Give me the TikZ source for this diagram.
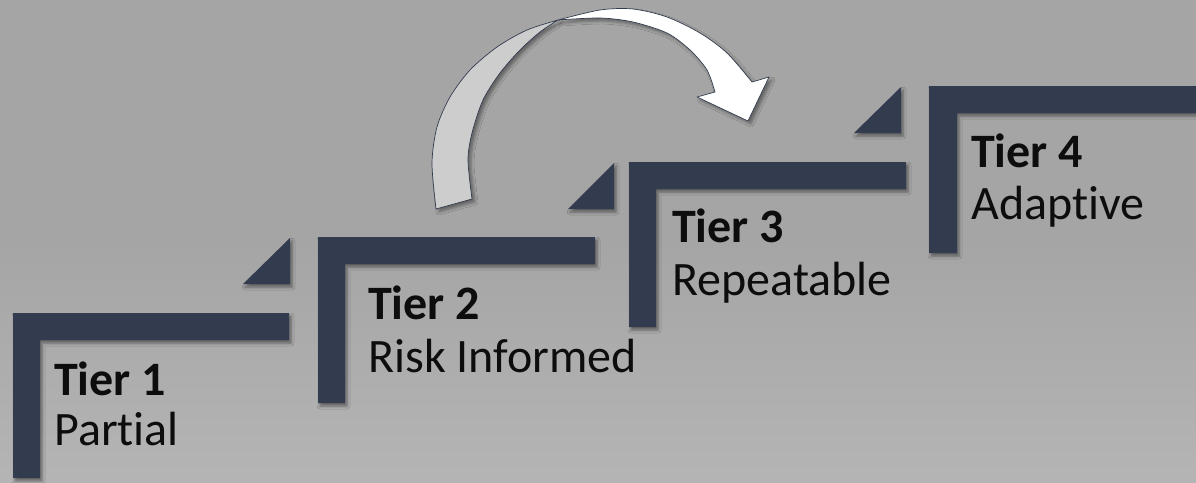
\documentclass[tikz,border=0pt]{standalone}
\usepackage{fontspec}
\setmainfont{Carlito}[Ligatures={NoCommon,NoContextual}, Contextuals=NoAlternate]
\usetikzlibrary{shadows.blur}
\definecolor{navy}{HTML}{323C4E}
\definecolor{bgtop}{HTML}{A5A5A5}
\definecolor{bgbot}{HTML}{C4C4C4}
\definecolor{arrowgray}{HTML}{CDCDCD}
\definecolor{txt}{HTML}{0D0D0D}
\pgfdeclareverticalshading{bgshade}{100bp}{color(0bp)=(bgbot); color(50bp)=(bgtop); color(100bp)=(bgtop)}
\tikzset{
  stepbar/.style={fill=navy, blur shadow={shadow xshift=2pt, shadow yshift=-3pt, shadow blur radius=3pt, shadow opacity=45}},
  ribbon/.style={draw=navy, line width=0.7pt, line join=round, blur shadow={shadow xshift=3pt, shadow yshift=-3pt, shadow blur radius=3pt, shadow opacity=40}},
  tiername/.style={anchor=base west, inner sep=0pt, text=txt, font=\fontsize{48}{52}\selectfont\bfseries},
  tierdesc/.style={anchor=base west, inner sep=0pt, text=txt, font=\fontsize{48}{52}\selectfont}
}
\begin{document}
\begin{tikzpicture}[x=1pt,y=-1pt]
\useasboundingbox (0,0) rectangle (1196,482);
\shade[shading=bgshade] (0,0) rectangle (1196,482);
% triangles
\fill[stepbar] (290,238) -- (290,284) -- (243,284) -- cycle;
\fill[stepbar] (614,163) -- (614,209) -- (568,209) -- cycle;
\fill[stepbar] (901,87) -- (901,133) -- (854,133) -- cycle;
% L steps
\fill[stepbar] (13,313) -- (289,313) -- (289,340) -- (40,340) -- (40,478) -- (13,478) -- cycle;
\fill[stepbar] (318,237) -- (595,237) -- (595,264) -- (345,264) -- (345,403) -- (318,403) -- cycle;
\fill[stepbar] (629,162) -- (906,162) -- (906,189) -- (656,189) -- (656,327) -- (629,327) -- cycle;
\fill[stepbar] (929,86) -- (1215,86) -- (1215,113) -- (957,113) -- (957,253) -- (929,253) -- cycle;
% curved arrow
\filldraw[ribbon, fill=arrowgray] plot[smooth] coordinates {(436,209) (432,163) (437,127) (450,97) (470,70) (497,47) (527,30) (558,20)}
  -- plot[smooth] coordinates {(558,20) (540,32) (520,50) (500,73) (483,100) (472,133) (468,160) (472,199)} -- cycle;
\filldraw[ribbon, fill=white] plot[smooth] coordinates {(558,20) (600,10) (633,9) (667,17) (700,33) (727,53) (752,82)}
  -- (769,77) -- (748,121) -- (697,97)
  -- plot[smooth] coordinates {(715,92) (707,70) (690,50) (667,33) (633,22) (600,18) (558,20)} -- cycle;
% labels
\node[tiername] (t1a) at (54,395) {Tier 1};
\node[tierdesc] (t1b) at (54,445) {Partial};
\node[tiername] (t2a) at (368,319) {Tier 2};
\node[tierdesc] (t2b) at (368,372) {Risk Informed};
\node[tiername] (t3a) at (672,242) {Tier 3};
\node[tierdesc] (t3b) at (672,295) {Repeatable};
\node[tiername] (t4a) at (971,167) {Tier 4};
\node[tierdesc] (t4b) at (971,219) {Adaptive};
\end{tikzpicture}
\end{document}
